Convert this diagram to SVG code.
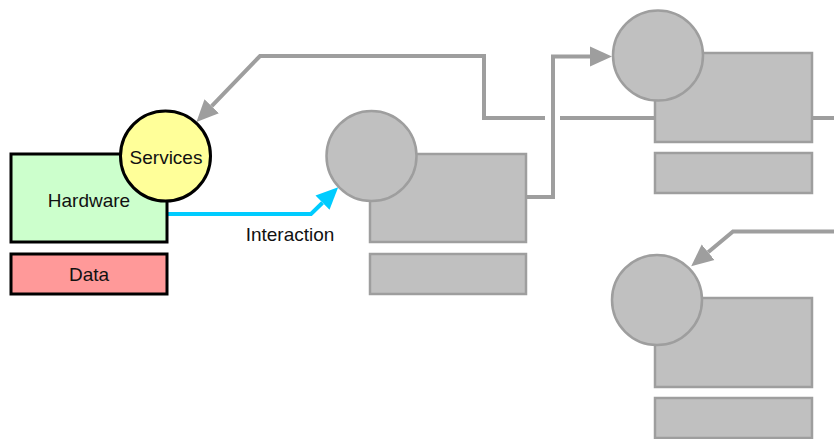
<svg xmlns="http://www.w3.org/2000/svg" width="834" height="439" viewBox="0 0 834 439">
  <style>
    .lbl { font-family: "Liberation Sans", Arial, sans-serif; font-size: 19px; fill: #111; text-anchor: middle; dominant-baseline: central; }
    .dark { stroke: #000; stroke-width: 3; }
    .grey { fill: #c0c0c0; stroke: #9e9e9e; stroke-width: 2.5; }
    .link { fill: none; stroke-width: 4; stroke-linejoin: miter; }
    .link.g { stroke: #9e9e9e; }
    .link.c { stroke: #00ccff; }
  </style>
  <defs>
    <marker id="arrowGrey" viewBox="0 -11 23 22" refX="0" refY="0" markerWidth="23" markerHeight="22" markerUnits="userSpaceOnUse" orient="auto">
      <path d="M0,-10 L22,0 L0,10 z" fill="#9e9e9e"/>
    </marker>
    <marker id="arrowCyan" viewBox="0 -11 23 22" refX="0" refY="0" markerWidth="23" markerHeight="22" markerUnits="userSpaceOnUse" orient="auto">
      <path d="M0,-10 L22,0 L0,10 z" fill="#00ccff"/>
    </marker>
  </defs>

  <!-- connectors, drawn beneath the nodes -->
  <g id="connectors">
    <path class="link g" d="M834,118 H560 M545,118 H484 V56 H260 L211.7,106.2" marker-end="url(#arrowGrey)"/>
    <path class="link g" d="M526,197 H553 V56.5 H590" marker-end="url(#arrowGrey)"/>
    <path class="link g" d="M834,231.5 H733 L708.1,252.2" marker-end="url(#arrowGrey)"/>
    <path class="link c" d="M167,214 H311 L322.5,202.7" marker-end="url(#arrowCyan)"/>
    <text class="lbl" x="290" y="234">Interaction</text>
  </g>

  <g id="hardware">
    <rect class="dark" x="11" y="154" width="156" height="88" fill="#ccffcc"/>
    <text class="lbl" x="89" y="200">Hardware</text>
  </g>
  <g id="services">
    <circle class="dark" cx="165.5" cy="156" r="45" fill="#ffff99"/>
    <text class="lbl" x="166" y="157">Services</text>
  </g>
  <g id="data">
    <rect class="dark" x="11" y="254" width="156" height="40" fill="#ff9999"/>
    <text class="lbl" x="89" y="274">Data</text>
  </g>

  <g id="node-b">
    <rect class="grey" x="370" y="154" width="156" height="88"/>
    <rect class="grey" x="370" y="254" width="156" height="40"/>
    <circle class="grey" cx="371.5" cy="156" r="45"/>
  </g>
  <g id="node-c">
    <rect class="grey" x="655" y="53" width="157" height="89"/>
    <rect class="grey" x="655" y="153" width="157" height="40"/>
    <circle class="grey" cx="658" cy="55.5" r="45"/>
  </g>
  <g id="node-d">
    <rect class="grey" x="655" y="298" width="157" height="89"/>
    <rect class="grey" x="655" y="398" width="157" height="40"/>
    <circle class="grey" cx="657" cy="300" r="45"/>
  </g>
</svg>
